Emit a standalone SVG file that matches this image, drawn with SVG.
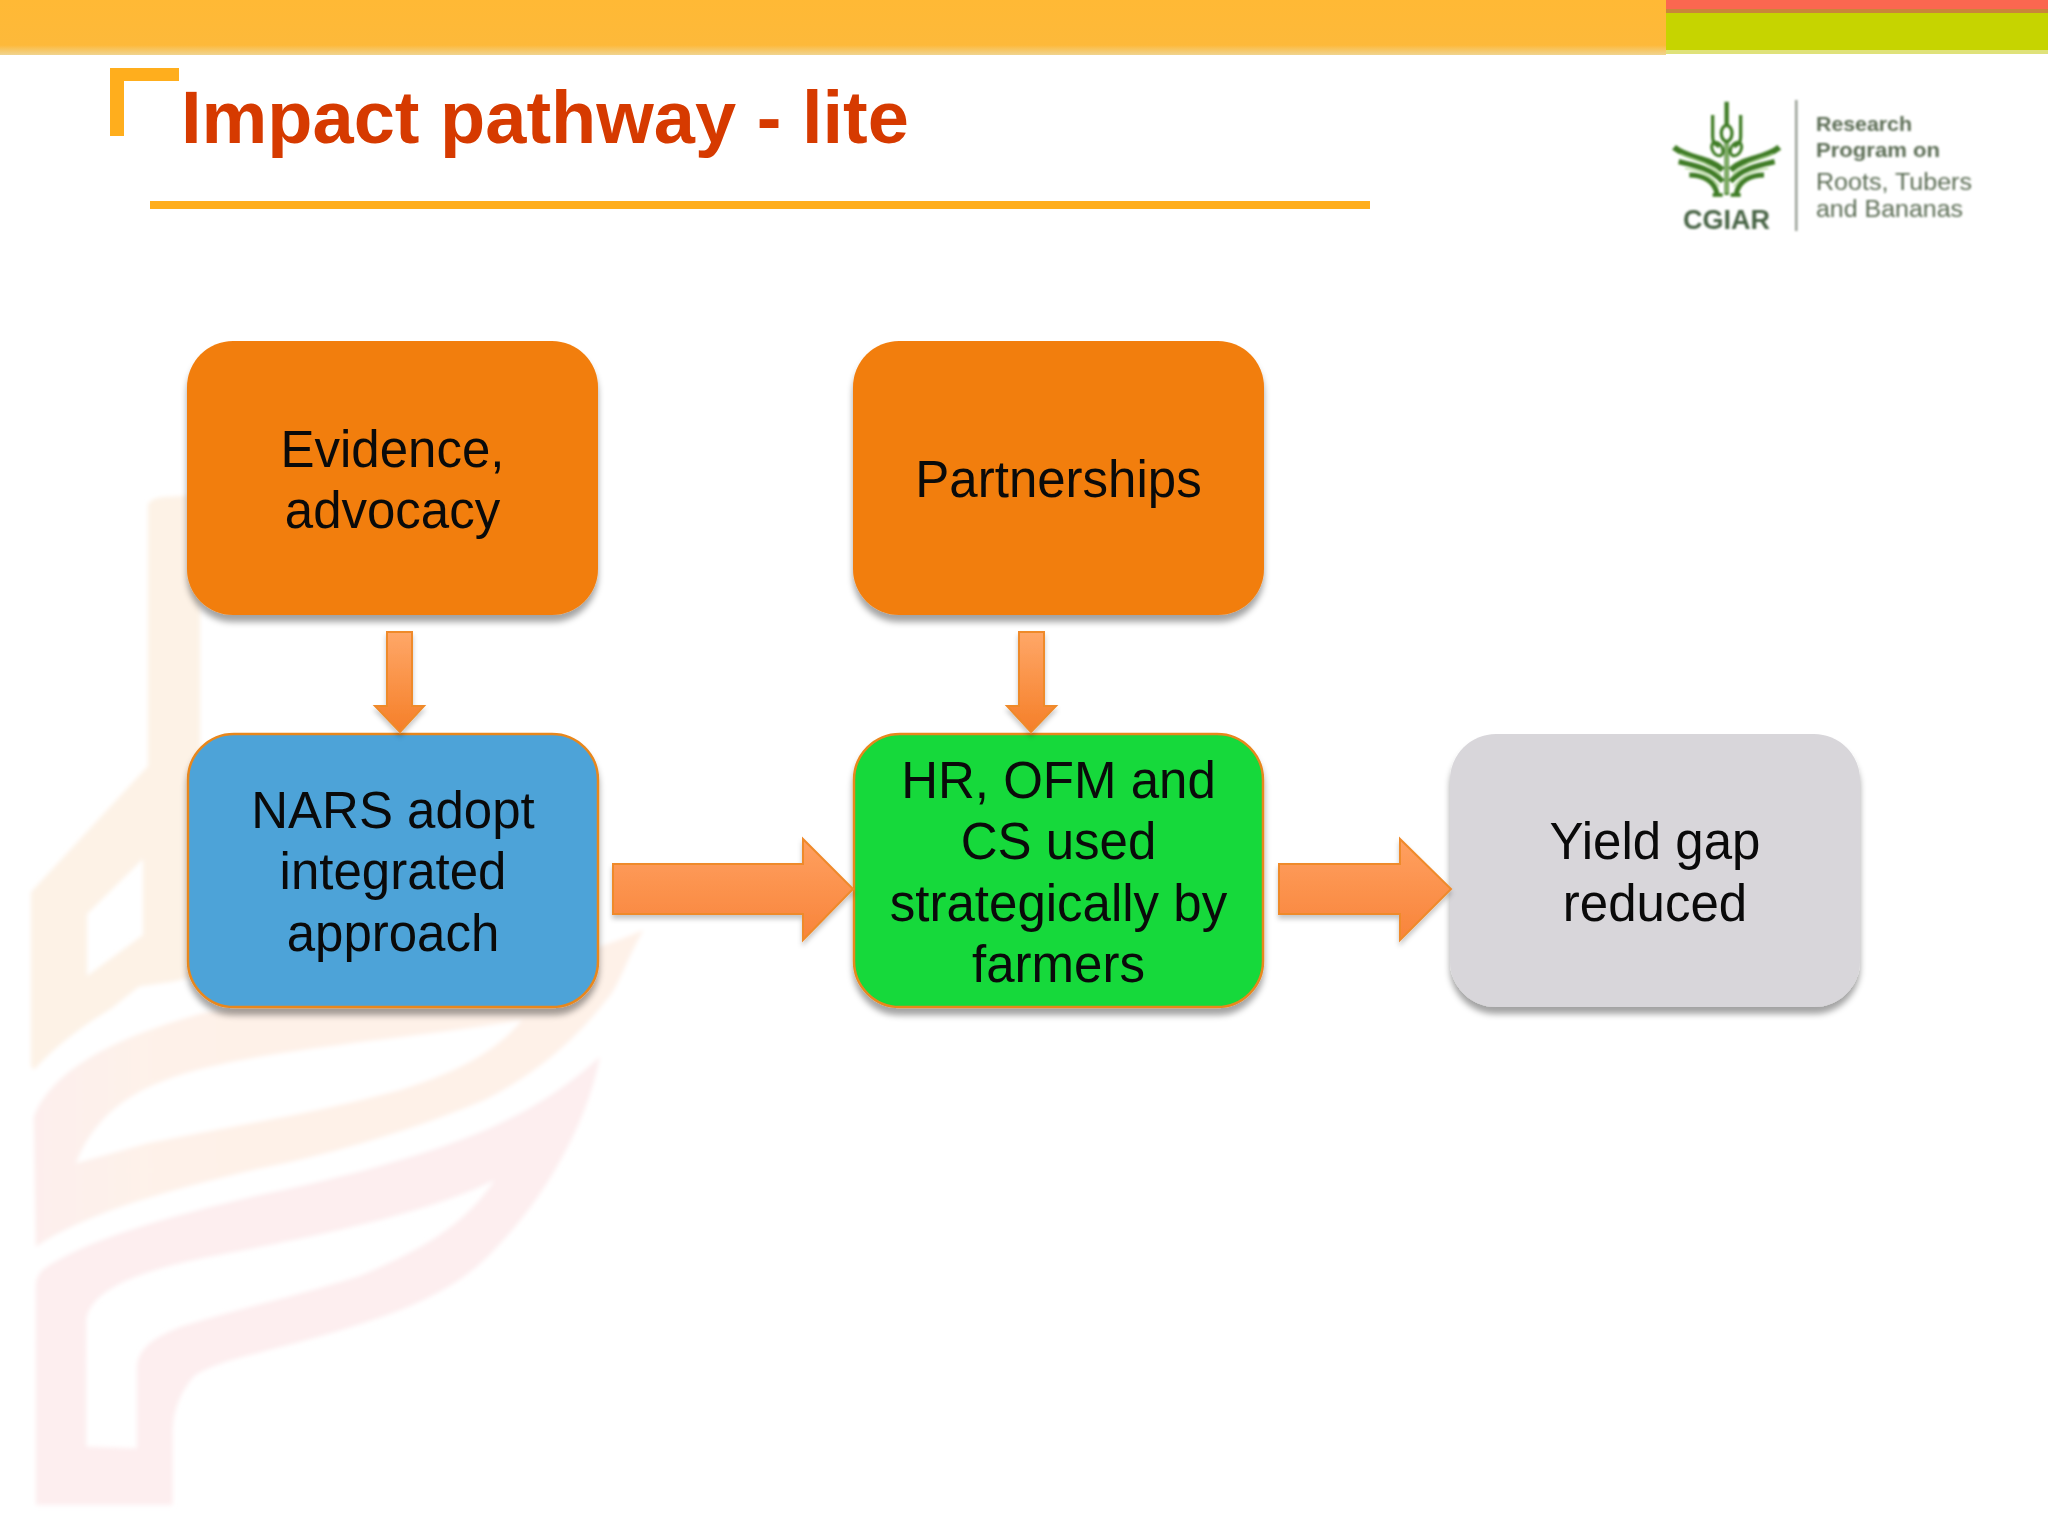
<svg xmlns="http://www.w3.org/2000/svg" xmlns:xlink="http://www.w3.org/1999/xlink" width="2048" height="1536" viewBox="0 0 2048 1536">
<style>
.lbl{font-family:"Liberation Sans",Arial,sans-serif;font-size:51px;fill:#0a0a0a;text-anchor:middle}
.box{filter:url(#sh)}
.arr{fill:url(#ag);stroke:#ef8a2c;stroke-width:2;filter:url(#sa)}
.arrh{fill:url(#ah);stroke:#ef8a2c;stroke-width:2;filter:url(#sa)}
.lg{font-family:"Liberation Sans",sans-serif;fill:#5c6d55}
</style>
<defs>
<linearGradient id="top" x1="0" y1="0" x2="0" y2="1"><stop offset="0" stop-color="#ffb935"/><stop offset="0.82" stop-color="#fdb93a"/><stop offset="1" stop-color="#f0d490"/></linearGradient>
<linearGradient id="ag" x1="0" y1="0" x2="0" y2="1"><stop offset="0" stop-color="#ffa768"/><stop offset="1" stop-color="#f57f28"/></linearGradient>
<linearGradient id="ah" x1="0" y1="0" x2="0" y2="1"><stop offset="0" stop-color="#ffa060"/><stop offset="1" stop-color="#f8843a"/></linearGradient>
<linearGradient id="band" gradientUnits="userSpaceOnUse" x1="30" y1="0" x2="640" y2="0"><stop offset="0" stop-color="#fdeeee"/><stop offset="0.5" stop-color="#fef2ea"/><stop offset="1" stop-color="#fef1e8"/></linearGradient>
<filter id="sh" x="-5%" y="-5%" width="110%" height="114%"><feDropShadow dx="0" dy="7" stdDeviation="3" flood-color="#000" flood-opacity="0.36"/></filter>
<filter id="sa" x="-10%" y="-10%" width="120%" height="125%"><feDropShadow dx="0" dy="4" stdDeviation="2.5" flood-color="#000" flood-opacity="0.22"/></filter>
<filter id="bl" x="-5%" y="-5%" width="110%" height="110%"><feGaussianBlur stdDeviation="0.8"/></filter>
<filter id="wm" x="-2%" y="-2%" width="104%" height="104%"><feGaussianBlur stdDeviation="2"/></filter>
<g id="half" fill="none" stroke="#3f7d26">
<path d="M338,345V410Q338,432 358,440" stroke-width="10"/>
<ellipse cx="352" cy="447" rx="15" ry="22" transform="rotate(-30 352 447)" stroke-width="9"/>
<path d="M222,442C265,478 325,470 368,510" stroke-width="18"/>
<path d="M236,485C280,495 335,505 368,545" stroke-width="16"/>
<path d="M268,525C305,525 345,540 352,585" stroke-width="15"/>
<path d="M240,462C285,482 325,485 362,525" stroke-width="4" stroke="#a6d487"/>
<path d="M255,505C295,510 330,520 358,560" stroke-width="4" stroke="#a6d487"/>
<path d="M338,585H368" stroke-width="11"/>
</g>
</defs>
<rect width="2048" height="1536" fill="#fff"/>
<g id="watermark" filter="url(#wm)">
<path fill="#fdf2e6" fill-rule="evenodd" d="M148,505Q150,498 165,497L200,495V975C130,990 70,1030 34,1070L31,1066V892L148,766ZM87,914L143,859V935L87,976Z"/>
<g transform="translate(0,1000) scale(0.4209,0.3333)">
<path fill="#fff" d="M60,760L60,230L330,-40L600,-90L1580,-260L1500,200L1100,450L100,830Z"/>
<path fill="url(#band)" fill-rule="evenodd" d="M85,740L80,350C120,220 250,120 480,40C700,-20 1200,-30 1528,-210C1480,-100 1470,-40 1440,0C1380,100 1280,220 1150,300C1000,380 800,460 600,510C400,570 200,640 85,740ZM180,490C230,330 330,250 500,200C700,140 1000,110 1240,60C1180,150 1100,210 950,270C750,340 500,390 350,430Z" transform="scale(1)"/>
<path fill="#fdeeef" fill-rule="evenodd" d="M85,860C85,830 95,820 100,810C200,720 400,650 600,590C900,510 1100,430 1220,350C1330,280 1400,200 1425,170C1400,350 1300,600 1150,780C1050,900 900,960 700,1030C600,1065 500,1090 460,1130C420,1190 410,1250 410,1300V1515H85ZM205,1340V960C215,880 300,820 500,770C700,720 1000,650 1175,540C1100,680 1000,750 850,830C700,890 550,930 430,980C370,1010 330,1040 325,1100V1345Z"/>
</g>
</g>
<g id="banner">
<rect width="1666" height="55" fill="url(#top)"/>
<rect x="1666" width="382" height="12" fill="#fb6750"/>
<rect x="1666" y="9" width="382" height="4" fill="#c9863a"/>
<rect x="1666" y="13" width="382" height="39" fill="#c6d400"/>
<rect x="1666" y="50" width="382" height="4" fill="#dfe27a"/>
<path d="M110,68H179V81H124V136H110Z" fill="#ffae1d"/>
<rect x="150" y="201" width="1220" height="8" fill="#ffae1d"/>
<text id="title" x="181" y="143" font-family="'Liberation Sans',Arial,sans-serif" font-weight="700" font-size="74" fill="#d63a00">Impact pathway - lite</text>
</g>
<g id="logo" filter="url(#bl)">
<g transform="translate(1600,0) scale(0.3333)">
<use xlink:href="#half" href="#half"/>
<use xlink:href="#half" href="#half" transform="translate(760,0) scale(-1,1)"/>
<path d="M380,305V375M380,425V585" stroke="#3f7d26" stroke-width="13" fill="none"/>
<path d="M380,430V580" stroke="#a6d487" stroke-width="4" fill="none"/>
<ellipse cx="380" cy="400" rx="16" ry="24" fill="none" stroke="#3f7d26" stroke-width="10"/>
</g>
<text x="1683" y="229" font-family="'Liberation Sans',sans-serif" font-weight="700" font-size="27" fill="#4a6546" textLength="87" lengthAdjust="spacingAndGlyphs">CGIAR</text>
<rect x="1795" y="100" width="2.500" height="131" fill="#9aa097"/>
<text class="lg" x="1816" y="131" font-size="21" font-weight="700" textLength="96" lengthAdjust="spacingAndGlyphs">Research</text>
<text class="lg" x="1816" y="157" font-size="21" font-weight="700" textLength="124" lengthAdjust="spacingAndGlyphs">Program on</text>
<text class="lg" x="1816" y="190" font-size="23.500" textLength="156" lengthAdjust="spacingAndGlyphs">Roots, Tubers</text>
<text class="lg" x="1816" y="217" font-size="23.500" textLength="147" lengthAdjust="spacingAndGlyphs">and Bananas</text>
</g>
<g id="node-evidence">
<rect class="box" x="187" y="341" width="411" height="274" rx="46" fill="#f27e0c"/>
<text class="lbl" x="392.500" y="467">Evidence,</text><text class="lbl" x="392.500" y="528">advocacy</text>
</g>
<g id="node-partnerships">
<rect class="box" x="853" y="341" width="411" height="274" rx="46" fill="#f27e0c"/>
<text class="lbl" x="1058.500" y="497">Partnerships</text>
</g>
<g id="node-nars">
<rect class="box" x="188" y="734" width="410" height="273" rx="46" fill="#4da3d8" stroke="#e8871e" stroke-width="2.500"/>
<text class="lbl" x="393" y="828">NARS adopt</text><text class="lbl" x="393" y="889">integrated</text><text class="lbl" x="393" y="951">approach</text>
</g>
<g id="node-hr">
<rect class="box" x="854" y="734" width="409" height="273" rx="46" fill="#14d93a" stroke="#e8871e" stroke-width="2.500"/>
<text class="lbl" x="1058.500" y="798">HR, OFM and</text><text class="lbl" x="1058.500" y="859">CS used</text><text class="lbl" x="1058.500" y="921">strategically by</text><text class="lbl" x="1058.500" y="982">farmers</text>
</g>
<g id="node-yield">
<rect class="box" x="1450" y="734" width="410" height="273" rx="46" fill="#d8d6da"/>
<text class="lbl" x="1655" y="859">Yield gap</text><text class="lbl" x="1655" y="921">reduced</text>
</g>
<g id="connectors">
<polygon class="arr" points="387,632 412,632 412,706 424,706 400,732 375,706 387,706"/>
<polygon class="arr" points="1019,632 1044,632 1044,706 1056,706 1031,732 1007,706 1019,706"/>
<polygon class="arrh" points="613,864 803,864 803,839 853,889 803,940 803,914 613,914"/>
<polygon class="arrh" points="1279,864 1400,864 1400,839 1451,889 1400,940 1400,914 1279,914"/>
</g>
</svg>
